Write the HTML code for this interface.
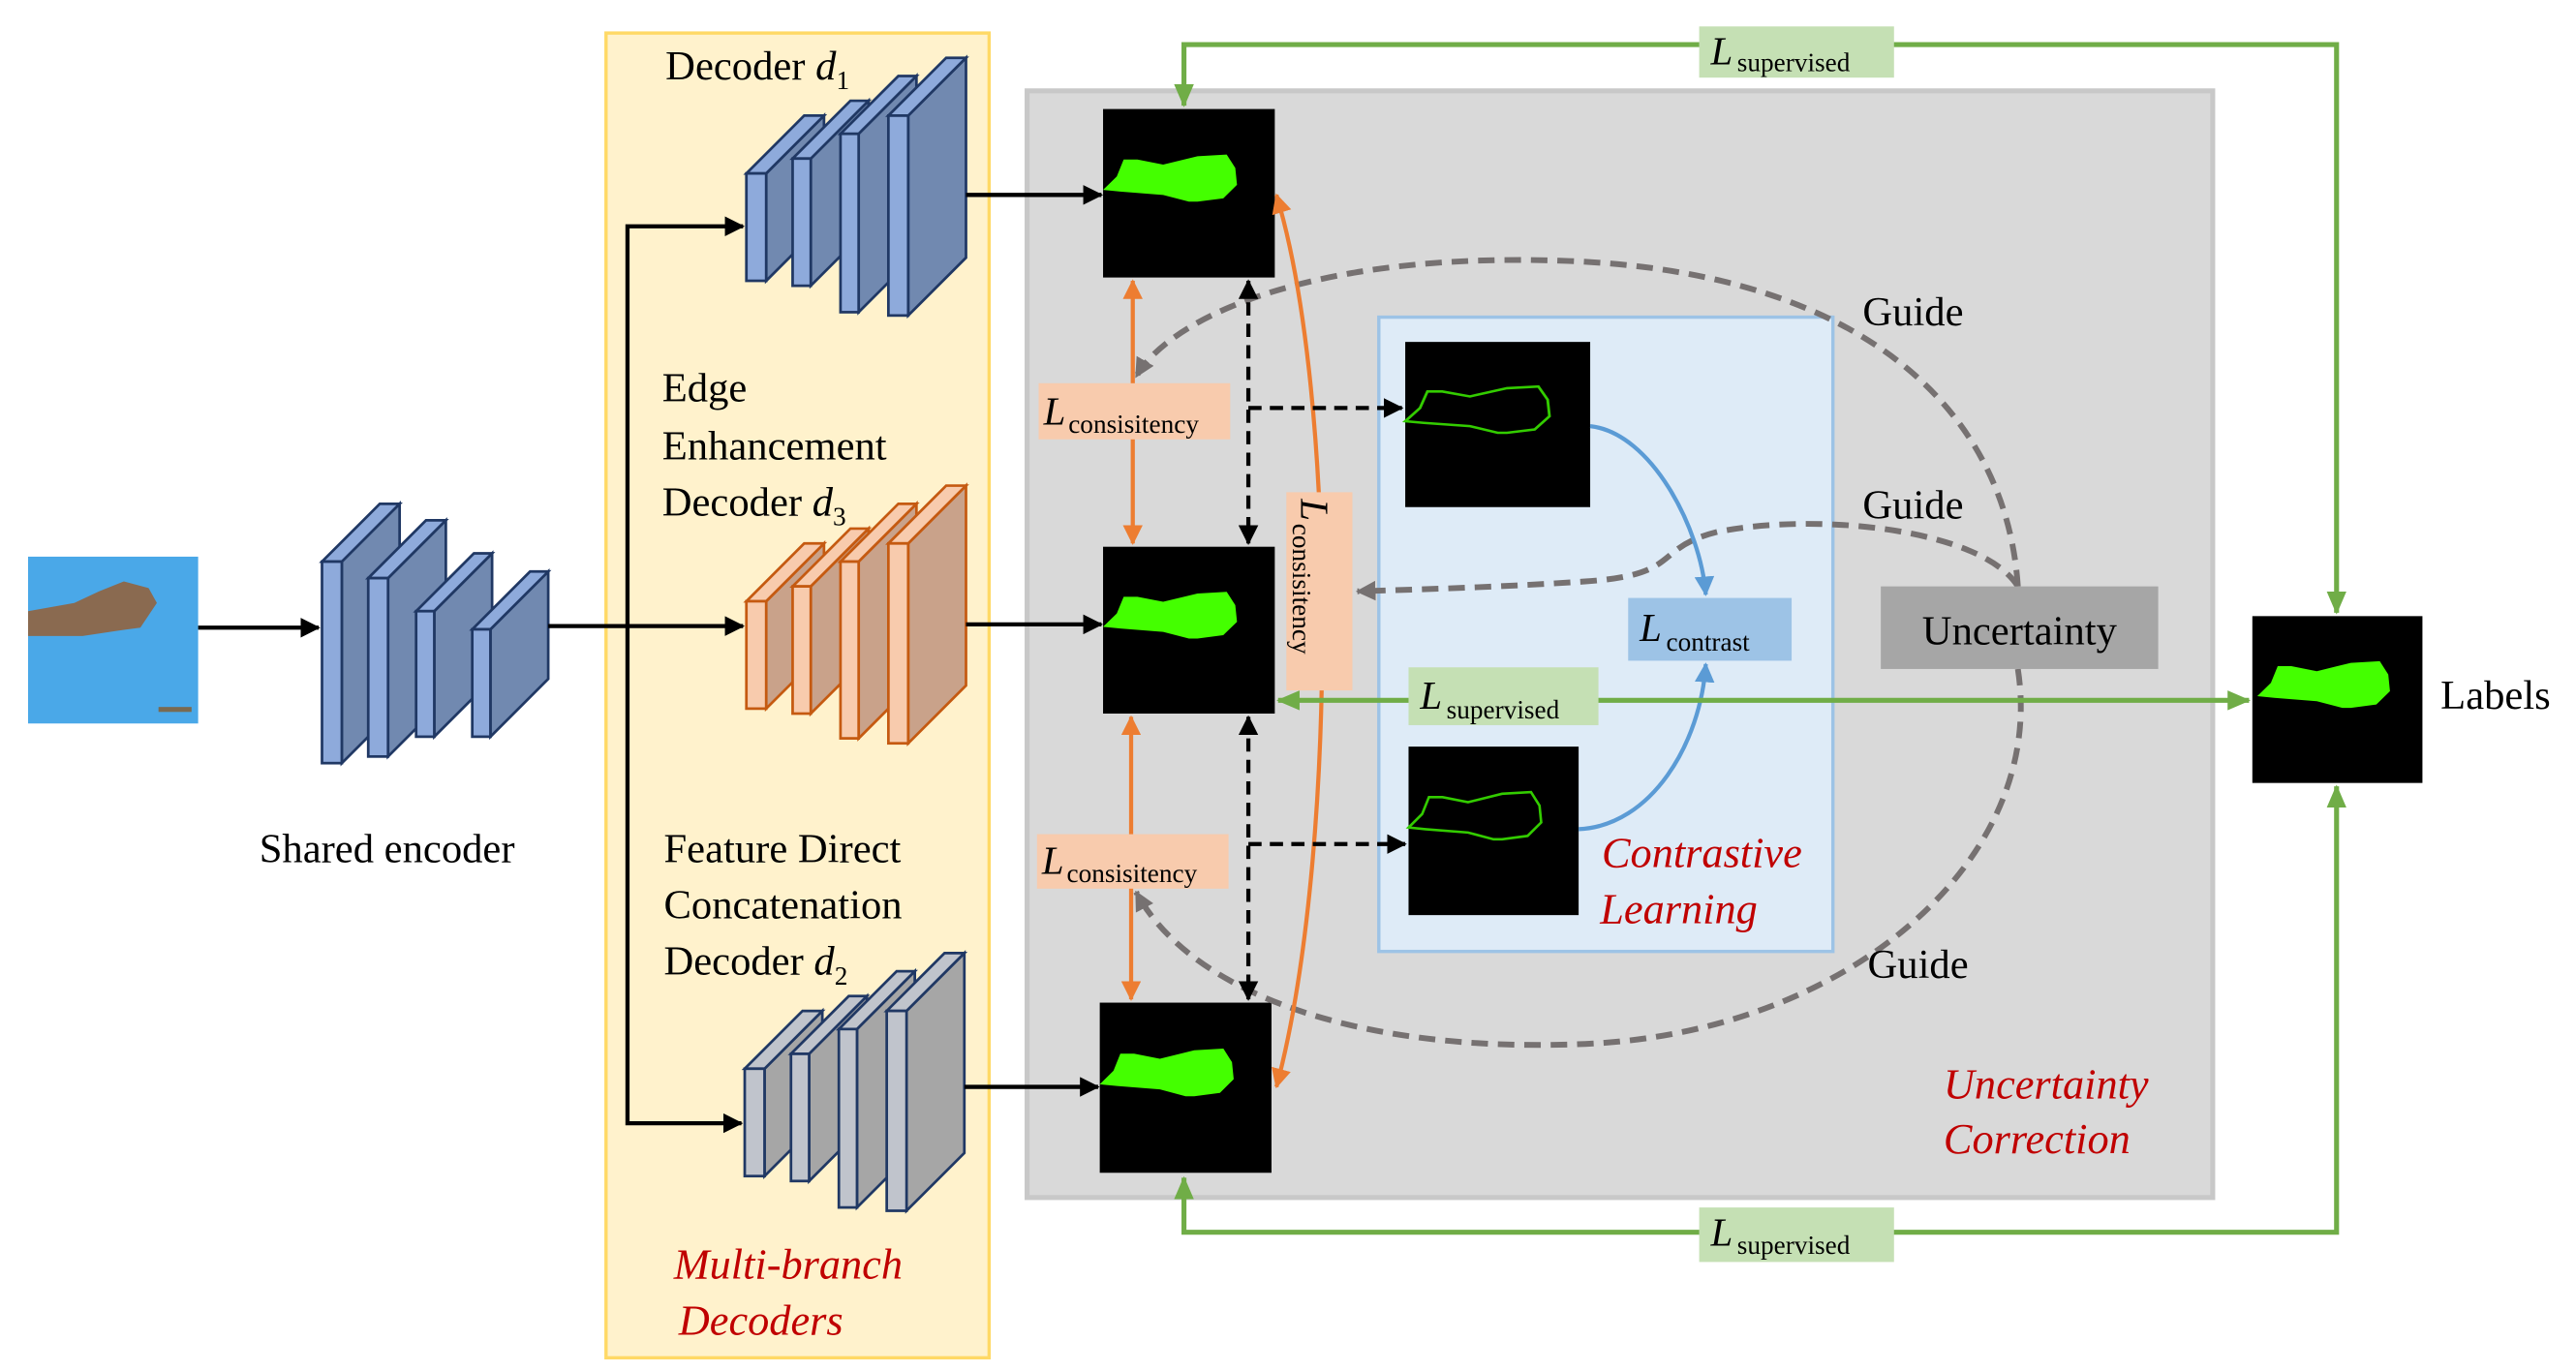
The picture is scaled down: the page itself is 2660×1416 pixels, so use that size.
<!DOCTYPE html>
<html><head><meta charset="utf-8"><style>
html,body{margin:0;padding:0;background:#fff;}
svg{display:block;font-family:"Liberation Serif","Times New Roman",serif;}
svg text{font-family:"Liberation Serif","Times New Roman",serif;}
</style></head><body>
<svg width="2660" height="1416" viewBox="0 0 1560 830" preserveAspectRatio="none" xmlns="http://www.w3.org/2000/svg" font-family="Liberation Serif, serif">
<defs>
<marker id="ak2" markerWidth="12" markerHeight="12" refX="11" refY="6" orient="auto-start-reverse" markerUnits="userSpaceOnUse"><path d="M0,0 L12,6 L0,12Z" fill="#000"/></marker>
<marker id="ao" markerWidth="12" markerHeight="12" refX="11" refY="6" orient="auto-start-reverse" markerUnits="userSpaceOnUse"><path d="M0,0 L12,6 L0,12Z" fill="#ed7d31"/></marker>
<marker id="ag" markerWidth="14" markerHeight="12" refX="13" refY="6" orient="auto-start-reverse" markerUnits="userSpaceOnUse"><path d="M0,0 L14,6 L0,12Z" fill="#70ad47"/></marker>
<marker id="ab" markerWidth="12" markerHeight="12" refX="11" refY="6" orient="auto" markerUnits="userSpaceOnUse"><path d="M0,0 L12,6 L0,12Z" fill="#5b9bd5"/></marker>
<marker id="ay" markerWidth="12" markerHeight="12" refX="11" refY="6" orient="auto" markerUnits="userSpaceOnUse"><path d="M0,0 L12,6 L0,12Z" fill="#767171"/></marker>
<path id="blob" d="M0,48 L8,40 L12,30 L20,30 L35,33 L55,28 L72,27 L77,35 L78,45 L70,53 L55,55 L50,55 L35,51 L10,49 Z" fill="#44ff00"/>
<path id="edge" d="M0,48 L8,40 L12,30 L20,30 L35,33 L55,28 L72,27 L77,35 L78,45 L70,53 L55,55 L50,55 L35,51 L10,49 Z" fill="none" stroke="#33cc00" stroke-width="1.5"/>
</defs>

<rect x="367" y="20" width="232" height="802" fill="#fff2cc" stroke="#ffd966" stroke-width="2"/>
<rect x="622" y="55" width="718" height="670" fill="#d9d9d9" stroke="#c8c8c8" stroke-width="3"/>
<rect x="835" y="192" width="275" height="384" fill="#deebf7" stroke="#9dc3e6" stroke-width="2"/>

<rect x="17" y="337" width="103" height="101" fill="#4aa8e8"/>
<path d="M17,370 L45,365 L60,358 L75,352 L90,356 L95,365 L85,380 L70,382 L50,385 L17,385Z" fill="#8a6a50"/>
<rect x="96" y="428" width="20" height="3" fill="#7a6a50"/>

<g stroke="#203864" stroke-width="1.6">
<polygon points="207,340 242,305 242,427 207,462" fill="#7189b0"/><polygon points="195,340 207,340 242,305 230,305" fill="#8eaadb"/><rect x="195" y="340" width="12" height="122" fill="#8eaadb"/>
<polygon points="235,350 270,315 270,423 235,458" fill="#7189b0"/><polygon points="223,350 235,350 270,315 258,315" fill="#8eaadb"/><rect x="223" y="350" width="12" height="108" fill="#8eaadb"/>
<polygon points="263,370 298,335 298,411 263,446" fill="#7189b0"/><polygon points="252,370 263,370 298,335 287,335" fill="#8eaadb"/><rect x="252" y="370" width="11" height="76" fill="#8eaadb"/>
<polygon points="297,381 332,346 332,411 297,446" fill="#7189b0"/><polygon points="286,381 297,381 332,346 321,346" fill="#8eaadb"/><rect x="286" y="381" width="11" height="65" fill="#8eaadb"/>
</g>

<g stroke="#203864" stroke-width="1.6">
<polygon points="464,105 499,70 499,135 464,170" fill="#7189b0"/><polygon points="452,105 464,105 499,70 487,70" fill="#8eaadb"/><rect x="452" y="105" width="12" height="65" fill="#8eaadb"/>
<polygon points="491,96 526,61 526,138 491,173" fill="#7189b0"/><polygon points="480,96 491,96 526,61 515,61" fill="#8eaadb"/><rect x="480" y="96" width="11" height="77" fill="#8eaadb"/>
<polygon points="520,81 555,46 555,154 520,189" fill="#7189b0"/><polygon points="509,81 520,81 555,46 544,46" fill="#8eaadb"/><rect x="509" y="81" width="11" height="108" fill="#8eaadb"/>
<polygon points="550,70 585,35 585,156 550,191" fill="#7189b0"/><polygon points="538,70 550,70 585,35 573,35" fill="#8eaadb"/><rect x="538" y="70" width="12" height="121" fill="#8eaadb"/>
</g>
<g stroke="#c55a11" stroke-width="1.6">
<polygon points="464,364 499,329 499,394 464,429" fill="#c9a28a"/><polygon points="452,364 464,364 499,329 487,329" fill="#f8cbad"/><rect x="452" y="364" width="12" height="65" fill="#f8cbad"/>
<polygon points="491,355 526,320 526,397 491,432" fill="#c9a28a"/><polygon points="480,355 491,355 526,320 515,320" fill="#f8cbad"/><rect x="480" y="355" width="11" height="77" fill="#f8cbad"/>
<polygon points="520,340 555,305 555,412 520,447" fill="#c9a28a"/><polygon points="509,340 520,340 555,305 544,305" fill="#f8cbad"/><rect x="509" y="340" width="11" height="107" fill="#f8cbad"/>
<polygon points="550,329 585,294 585,415 550,450" fill="#c9a28a"/><polygon points="538,329 550,329 585,294 573,294" fill="#f8cbad"/><rect x="538" y="329" width="12" height="121" fill="#f8cbad"/>
</g>
<g stroke="#203864" stroke-width="1.6">
<polygon points="463,647 498,612 498,677 463,712" fill="#a6a6a6"/><polygon points="451,647 463,647 498,612 486,612" fill="#c0c4cc"/><rect x="451" y="647" width="12" height="65" fill="#c0c4cc"/>
<polygon points="490,638 525,603 525,680 490,715" fill="#a6a6a6"/><polygon points="479,638 490,638 525,603 514,603" fill="#c0c4cc"/><rect x="479" y="638" width="11" height="77" fill="#c0c4cc"/>
<polygon points="519,623 554,588 554,696 519,731" fill="#a6a6a6"/><polygon points="508,623 519,623 554,588 543,588" fill="#c0c4cc"/><rect x="508" y="623" width="11" height="108" fill="#c0c4cc"/>
<polygon points="549,612 584,577 584,698 549,733" fill="#a6a6a6"/><polygon points="537,612 549,612 584,577 572,577" fill="#c0c4cc"/><rect x="537" y="612" width="12" height="121" fill="#c0c4cc"/>
</g>

<g stroke="#000" stroke-width="2.5" fill="none">
<line x1="120" y1="380" x2="193" y2="380" marker-end="url(#ak2)"/>
<line x1="332" y1="379" x2="450" y2="379" marker-end="url(#ak2)"/>
<path d="M450,137 L380,137 L380,680 L449,680" marker-start="url(#ak2)" marker-end="url(#ak2)"/>
<line x1="585" y1="118" x2="667" y2="118" marker-end="url(#ak2)"/>
<line x1="585" y1="378" x2="667" y2="378" marker-end="url(#ak2)"/>
<line x1="584" y1="658" x2="665" y2="658" marker-end="url(#ak2)"/>
</g>

<rect x="668" y="66" width="104" height="102" fill="#000"/>
<use href="#blob" transform="translate(668,66) scale(1.04,1.02)"/>
<rect x="668" y="331" width="104" height="101" fill="#000"/>
<use href="#blob" transform="translate(668,331) scale(1.04,1.01)"/>
<rect x="666" y="607" width="104" height="103" fill="#000"/>
<use href="#blob" transform="translate(666,607) scale(1.04,1.03)"/>
<rect x="1364" y="373" width="103" height="101" fill="#000"/>
<use href="#blob" transform="translate(1367,373) scale(1.03,1.01)"/>
<rect x="851" y="207" width="112" height="100" fill="#000"/>
<use href="#edge" transform="translate(851,207) scale(1.12,1.0)"/>
<rect x="853" y="452" width="103" height="102" fill="#000"/>
<use href="#edge" transform="translate(853,452) scale(1.03,1.02)"/>

<g stroke="#767171" stroke-width="3.5" fill="none" stroke-dasharray="10,6">
<path d="M1222,355 C1215,250 1130,165 950,158 C800,152 710,190 688,228" marker-end="url(#ay)"/>
<path d="M1222,355 C1200,320 1100,310 1040,322 C1000,332 1020,348 960,352 C900,356 850,357 822,358" marker-end="url(#ay)"/>
<path d="M1222,405 C1240,520 1120,625 960,632 C820,638 720,600 688,540" marker-end="url(#ay)"/>
</g>

<g stroke="#ed7d31" stroke-width="2.5" fill="none">
<line x1="686" y1="170" x2="686" y2="329" marker-start="url(#ao)" marker-end="url(#ao)"/>
<line x1="685" y1="434" x2="685" y2="605" marker-start="url(#ao)" marker-end="url(#ao)"/>
<path d="M773,118 C810,240 810,520 773,658" marker-start="url(#ao)" marker-end="url(#ao)"/>
</g>

<g stroke="#000" stroke-width="2.5" fill="none" stroke-dasharray="8,5">
<line x1="756" y1="170" x2="756" y2="329" marker-start="url(#ak2)" marker-end="url(#ak2)"/>
<line x1="756" y1="434" x2="756" y2="605" marker-start="url(#ak2)" marker-end="url(#ak2)"/>
<path d="M756,247 L849,247" marker-end="url(#ak2)"/>
<path d="M756,511 L851,511" marker-end="url(#ak2)"/>
</g>

<g stroke="#5b9bd5" stroke-width="2.5" fill="none">
<path d="M963,258 C1000,262 1030,320 1033,360" marker-end="url(#ab)"/>
<path d="M956,502 C1000,500 1030,450 1033,402" marker-end="url(#ab)"/>
</g>

<g stroke="#70ad47" stroke-width="3" fill="none">
<path d="M717,64 L717,27 L1415,27 L1415,371" marker-start="url(#ag)" marker-end="url(#ag)"/>
<path d="M717,713 L717,746 L1415,746 L1415,476" marker-start="url(#ag)" marker-end="url(#ag)"/>
<line x1="774" y1="424" x2="1362" y2="424" marker-start="url(#ag)" marker-end="url(#ag)"/>
</g>

<rect x="629" y="232" width="116" height="34" fill="#f8cbad"/>
<text x="632" y="257" font-size="24" font-style="italic">L</text><text x="647" y="262" font-size="16">consisitency</text>
<rect x="628" y="505" width="116" height="33" fill="#f8cbad"/>
<text x="631" y="529" font-size="24" font-style="italic">L</text><text x="646" y="534" font-size="16">consisitency</text>
<rect x="779" y="298" width="40" height="120" fill="#f8cbad"/>
<g transform="translate(788,302) rotate(90)"><text x="0" y="0" font-size="24" font-style="italic">L</text><text x="15" y="5" font-size="16">consisitency</text></g>
<rect x="853" y="404" width="115" height="35" fill="#c5e0b4"/>
<text x="860" y="429" font-size="24" font-style="italic">L</text><text x="876" y="435" font-size="16">supervised</text>
<rect x="1029" y="16" width="118" height="31" fill="#c5e0b4"/>
<text x="1036" y="39" font-size="24" font-style="italic">L</text><text x="1052" y="43" font-size="16">supervised</text>
<rect x="1029" y="731" width="118" height="33" fill="#c5e0b4"/>
<text x="1036" y="754" font-size="24" font-style="italic">L</text><text x="1052" y="759" font-size="16">supervised</text>
<rect x="986" y="362" width="99" height="38" fill="#9dc3e6"/>
<text x="993" y="388" font-size="24" font-style="italic">L</text><text x="1009" y="394" font-size="16">contrast</text>
<rect x="1139" y="355" width="168" height="50" fill="#a6a6a6"/>
<text x="1223" y="390" font-size="25" text-anchor="middle">Uncertainty</text>

<g font-size="25" fill="#000">
<text x="403" y="48">Decoder <tspan font-style="italic">d</tspan><tspan font-size="16" dy="6">1</tspan></text>
<text x="401" y="243">Edge</text>
<text x="401" y="278">Enhancement</text>
<text x="401" y="312">Decoder <tspan font-style="italic">d</tspan><tspan font-size="16" dy="6">3</tspan></text>
<text x="402" y="522">Feature Direct</text>
<text x="402" y="556">Concatenation</text>
<text x="402" y="590">Decoder <tspan font-style="italic">d</tspan><tspan font-size="16" dy="6">2</tspan></text>
<text x="157" y="522">Shared encoder</text>
<text x="1478" y="429">Labels</text>
<text x="1128" y="197">Guide</text>
<text x="1128" y="314">Guide</text>
<text x="1131" y="592">Guide</text>
</g>
<g font-size="26" font-style="italic" fill="#c00000">
<text x="408" y="774">Multi-branch</text>
<text x="411" y="808">Decoders</text>
<text x="970" y="525">Contrastive</text>
<text x="969" y="559">Learning</text>
<text x="1177" y="665">Uncertainty</text>
<text x="1177" y="698">Correction</text>
</g>
</svg>
</body></html>
